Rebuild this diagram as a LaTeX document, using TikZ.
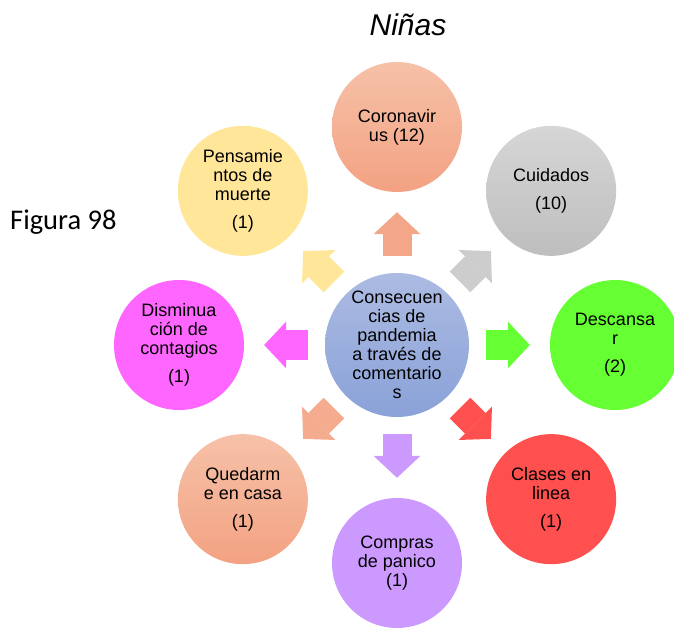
\documentclass[tikz,border=0pt]{standalone}
\usepackage{fontspec}
\setmainfont{Liberation Sans}
\newfontfamily\figfont{Carlito}
\usetikzlibrary{arrows.meta}
\definecolor{hubtop}{RGB}{172,187,226}
\definecolor{hubbot}{RGB}{138,162,216}
\definecolor{salmontop}{RGB}{246,193,168}
\definecolor{salmonbot}{RGB}{243,162,130}
\definecolor{graytop}{RGB}{214,214,214}
\definecolor{graybot}{RGB}{190,190,190}
\definecolor{yellowc}{RGB}{255,230,153}
\definecolor{greenc}{RGB}{102,255,51}
\definecolor{redc}{RGB}{255,80,80}
\definecolor{purplec}{RGB}{204,153,255}
\definecolor{magentac}{RGB}{255,102,255}

\begin{document}
\begin{tikzpicture}[
    x=1pt, y=1pt,
    hubnode/.style={circle, minimum size=144pt, inner sep=0pt, align=center, top color=hubtop, bottom color=hubbot, font=\fontsize{18}{19}\selectfont},
    item/.style={circle, minimum size=130pt, inner sep=0pt, align=center, font=\fontsize{18}{19}\selectfont},
    arrow/.style={line width=29pt, -{Triangle[length=22pt, width=47pt, line width=0pt]}, shorten <=17pt, shorten >=20pt},
]
\useasboundingbox (0,0) rectangle (674,627);

% Nodes
\node[hubnode] (hub) at (397,282) {Consecuen\\cias de\\pandemia\\a través de\\comentario\\s};
\node[item, top color=salmontop, bottom color=salmonbot] (corona) at ([shift={(90:218pt)}]hub) {Coronavir\\us (12)};
\node[item, top color=graytop, bottom color=graybot] (cuidados) at ([shift={(45:218pt)}]hub) {Cuidados\\[9pt](10)};
\node[item, fill=greenc] (descansar) at ([shift={(0:218pt)}]hub) {Descansa\\r\\[9pt](2)};
\node[item, fill=redc] (clases) at ([shift={(-45:218pt)}]hub) {Clases en\\linea\\[9pt](1)};
\node[item, fill=purplec] (compras) at ([shift={(-90:218pt)}]hub) {Compras\\de panico\\(1)};
\node[item, top color=salmontop, bottom color=salmonbot] (casa) at ([shift={(-135:218pt)}]hub) {Quedarm\\e en casa\\[9pt](1)};
\node[item, fill=magentac] (contagios) at ([shift={(180:218pt)}]hub) {Disminua\\ción de\\contagios\\[9pt](1)};
\node[item, fill=yellowc] (muerte) at ([shift={(135:218pt)}]hub) {Pensamie\\ntos de\\muerte\\[9pt](1)};

% Titles
\node[anchor=base, inner sep=0pt, font=\itshape\fontsize{30}{36}\selectfont] (title) at (408,591) {Niñas};
\node[anchor=base west, inner sep=0pt, font=\figfont\fontsize{28.5}{34}\selectfont] (figura) at (10,397) {Figura 98};

% Arrows
\draw[arrow, salmonbot!85!salmontop] (hub) -- (corona);
\draw[arrow, graytop!60!graybot] (hub) -- (cuidados);
\draw[arrow, greenc] (hub) -- (descansar);
\draw[arrow, redc] (hub) -- (clases);
\draw[arrow, purplec] (hub) -- (compras);
\draw[arrow, salmonbot!70!salmontop] (hub) -- (casa);
\draw[arrow, magentac] (hub) -- (contagios);
\draw[arrow, yellowc] (hub) -- (muerte);

\end{tikzpicture}
\end{document}
